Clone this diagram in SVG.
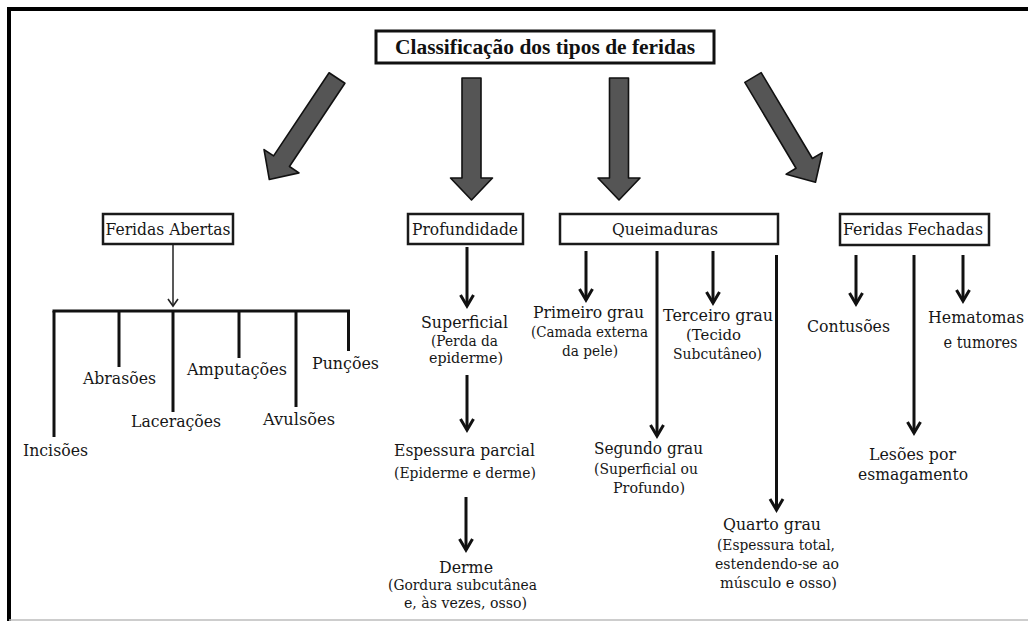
<svg xmlns="http://www.w3.org/2000/svg" width="1028" height="621" viewBox="0 0 1028 621">
<defs>
<style>
.t{font-family:"DejaVu Serif","Liberation Serif",serif;font-size:16px;fill:#161616;text-anchor:middle}
.s{font-family:"DejaVu Serif","Liberation Serif",serif;font-size:14px;fill:#161616;text-anchor:middle}
.ttl{font-family:"Liberation Serif","DejaVu Serif",serif;font-size:20px;font-weight:bold;fill:#111;text-anchor:middle}
.box{fill:#fff;stroke:#1a1a1a;stroke-width:2.5}
.ln{stroke:#111;stroke-width:3;fill:none}
.thin{stroke:#222;stroke-width:1.5;fill:none}
.big{fill:#555;stroke:#111;stroke-width:1.6;stroke-linejoin:round}
</style>
<marker id="ah" markerUnits="userSpaceOnUse" markerWidth="16" markerHeight="18" viewBox="-13 -9 16 18" refX="0" refY="0" orient="auto">
<path d="M-11,-6.5 L0,0 L-11,6.5" fill="none" stroke="#111" stroke-width="3" stroke-linejoin="miter"/>
</marker>
<marker id="ahs" markerUnits="userSpaceOnUse" markerWidth="12" markerHeight="14" viewBox="-10 -7 12 14" refX="0" refY="0" orient="auto">
<path d="M-7,-5 L0,0 L-7,5" fill="none" stroke="#222" stroke-width="1.6"/>
</marker>
<path id="bigarrow" d="M-9.5,0 L9.5,0 L9.5,100 L21,100 L0,122 L-21,100 L-9.5,100 Z"/>
</defs>
<rect width="1028" height="621" fill="#fff"/>
<g id="frame">
<path d="M1028,9 L9,9 L9,621" fill="none" stroke="#000" stroke-width="4"/>
<line x1="9" y1="620" x2="1028" y2="620" stroke="#bdbdbd" stroke-width="1.5"/>
</g>
<g id="title">
<rect x="376" y="31" width="338" height="32" fill="#fff" stroke="#111" stroke-width="3"/>
<text class="ttl" x="545" y="54" textLength="300" lengthAdjust="spacingAndGlyphs">Classificação dos tipos de feridas</text>
</g>
<g id="connectors">
<use href="#bigarrow" class="big" transform="translate(337,78) rotate(33.7)"/>
<use href="#bigarrow" class="big" transform="translate(471.5,78)"/>
<use href="#bigarrow" class="big" transform="translate(619,78)"/>
<use href="#bigarrow" class="big" transform="translate(753,77.5) rotate(-30.8)"/>
<line class="thin" x1="173" y1="245" x2="173" y2="306" marker-end="url(#ahs)"/>
<line class="ln" x1="52.5" y1="311" x2="350" y2="311"/>
<line class="ln" x1="54" y1="311" x2="54" y2="437"/>
<line class="ln" x1="119" y1="311" x2="119" y2="367"/>
<line class="ln" x1="173" y1="311" x2="173" y2="412"/>
<line class="ln" x1="239" y1="311" x2="239" y2="358"/>
<line class="ln" x1="296" y1="311" x2="296" y2="407"/>
<line class="ln" x1="348.5" y1="311" x2="348.5" y2="351"/>
<line class="ln" x1="467" y1="247" x2="467" y2="306" marker-end="url(#ah)"/>
<line class="ln" x1="467" y1="375" x2="467" y2="430" marker-end="url(#ah)"/>
<line class="ln" x1="466" y1="497" x2="466" y2="550" marker-end="url(#ah)"/>
<line class="ln" x1="586" y1="251" x2="586" y2="300" marker-end="url(#ah)"/>
<line class="ln" x1="657" y1="251" x2="657" y2="436" marker-end="url(#ah)"/>
<line class="ln" x1="713" y1="251" x2="713" y2="303" marker-end="url(#ah)"/>
<line class="ln" x1="776.5" y1="255" x2="776.5" y2="510" marker-end="url(#ah)"/>
<line class="ln" x1="856" y1="255" x2="856" y2="304" marker-end="url(#ah)"/>
<line class="ln" x1="914" y1="255" x2="914" y2="433" marker-end="url(#ah)"/>
<line class="ln" x1="963" y1="255" x2="963" y2="301" marker-end="url(#ah)"/>
</g>
<g id="feridas-abertas">
<rect class="box" x="103" y="214" width="130" height="30"/>
<text class="t" x="168" y="235" textLength="125" lengthAdjust="spacingAndGlyphs">Feridas Abertas</text>
</g>
<g id="profundidade">
<rect class="box" x="408" y="214" width="115" height="30"/>
<text class="t" x="465" y="235" textLength="106" lengthAdjust="spacingAndGlyphs">Profundidade</text>
</g>
<g id="queimaduras">
<rect class="box" x="560" y="214" width="218" height="30"/>
<text class="t" x="665" y="235" textLength="106" lengthAdjust="spacingAndGlyphs">Queimaduras</text>
</g>
<g id="feridas-fechadas">
<rect class="box" x="840" y="214" width="149" height="31"/>
<text class="t" x="913" y="235" textLength="140" lengthAdjust="spacingAndGlyphs">Feridas Fechadas</text>
</g>
<g id="incisoes"><text class="t" x="55.5" y="456" textLength="65" lengthAdjust="spacingAndGlyphs">Incisões</text></g>
<g id="abrasoes"><text class="t" x="119.5" y="384" textLength="73" lengthAdjust="spacingAndGlyphs">Abrasões</text></g>
<g id="laceracoes"><text class="t" x="176" y="427" textLength="90" lengthAdjust="spacingAndGlyphs">Lacerações</text></g>
<g id="amputacoes"><text class="t" x="237" y="375" textLength="100" lengthAdjust="spacingAndGlyphs">Amputações</text></g>
<g id="avulsoes"><text class="t" x="299" y="425" textLength="72" lengthAdjust="spacingAndGlyphs">Avulsões</text></g>
<g id="puncoes"><text class="t" x="345.5" y="369" textLength="67" lengthAdjust="spacingAndGlyphs">Punções</text></g>
<g id="superficial">
<text class="t" x="464.5" y="328" textLength="87" lengthAdjust="spacingAndGlyphs">Superficial</text>
<text class="s" x="464.5" y="346" textLength="67" lengthAdjust="spacingAndGlyphs">(Perda da</text>
<text class="s" x="466" y="363" textLength="74" lengthAdjust="spacingAndGlyphs">epiderme)</text>
</g>
<g id="espessura-parcial">
<text class="t" x="464.5" y="456" textLength="141" lengthAdjust="spacingAndGlyphs">Espessura parcial</text>
<text class="s" x="465" y="478" textLength="142" lengthAdjust="spacingAndGlyphs">(Epiderme e derme)</text>
</g>
<g id="derme">
<text class="t" x="466" y="573" textLength="54" lengthAdjust="spacingAndGlyphs">Derme</text>
<text class="s" x="462.5" y="590" textLength="149" lengthAdjust="spacingAndGlyphs">(Gordura subcutânea</text>
<text class="s" x="465.5" y="608" textLength="123" lengthAdjust="spacingAndGlyphs">e, às vezes, osso)</text>
</g>
<g id="primeiro-grau">
<text class="t" x="588.5" y="318" textLength="111" lengthAdjust="spacingAndGlyphs">Primeiro grau</text>
<text class="s" x="589.5" y="337" textLength="117" lengthAdjust="spacingAndGlyphs">(Camada externa</text>
<text class="s" x="590" y="356" textLength="56" lengthAdjust="spacingAndGlyphs">da pele)</text>
</g>
<g id="segundo-grau">
<text class="t" x="648.5" y="454" textLength="109" lengthAdjust="spacingAndGlyphs">Segundo grau</text>
<text class="s" x="646" y="474" textLength="104" lengthAdjust="spacingAndGlyphs">(Superficial ou</text>
<text class="s" x="649" y="493" textLength="72" lengthAdjust="spacingAndGlyphs">Profundo)</text>
</g>
<g id="terceiro-grau">
<text class="t" x="718" y="321" textLength="110" lengthAdjust="spacingAndGlyphs">Terceiro grau</text>
<text class="s" x="713.5" y="340" textLength="55" lengthAdjust="spacingAndGlyphs">(Tecido</text>
<text class="s" x="717.5" y="359" textLength="89" lengthAdjust="spacingAndGlyphs">Subcutâneo)</text>
</g>
<g id="quarto-grau">
<text class="t" x="772" y="530" textLength="98" lengthAdjust="spacingAndGlyphs">Quarto grau</text>
<text class="s" x="776" y="550" textLength="118" lengthAdjust="spacingAndGlyphs">(Espessura total,</text>
<text class="s" x="777" y="569" textLength="124" lengthAdjust="spacingAndGlyphs">estendendo-se ao</text>
<text class="s" x="778.5" y="588" textLength="117" lengthAdjust="spacingAndGlyphs">músculo e osso)</text>
</g>
<g id="contusoes"><text class="t" x="848.5" y="332" textLength="83" lengthAdjust="spacingAndGlyphs">Contusões</text></g>
<g id="hematomas">
<text class="t" x="976" y="323" textLength="96" lengthAdjust="spacingAndGlyphs">Hematomas</text>
<text class="t" x="980.5" y="348" textLength="74" lengthAdjust="spacingAndGlyphs">e tumores</text>
</g>
<g id="lesoes">
<text class="t" x="912.5" y="460" textLength="87" lengthAdjust="spacingAndGlyphs">Lesões por</text>
<text class="t" x="913" y="480" textLength="110" lengthAdjust="spacingAndGlyphs">esmagamento</text>
</g>
</svg>
